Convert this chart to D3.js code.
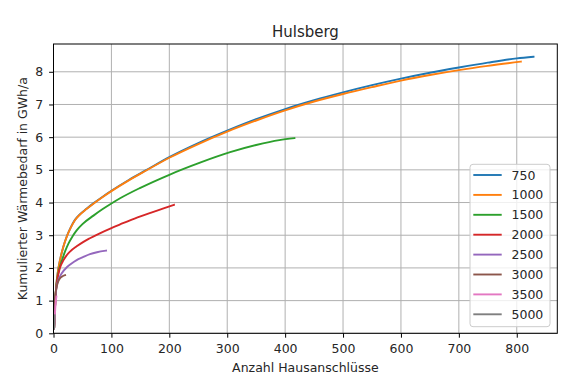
<!DOCTYPE html>
<html>
<head>
<meta charset="utf-8">
<script src="https://cdn.jsdelivr.net/npm/d3@7"></script>
<style>
  html, body { margin: 0; padding: 0; background: #ffffff; }
  svg { display: block; font-family: "DejaVu Sans", sans-serif; }
</style>
</head>
<body>
<svg id="chart" width="566" height="385"></svg>
<script>
const title = "Hulsberg";
const xLabel = "Anzahl Hausanschlüsse";
const yLabel = "Kumulierter Wärmebedarf in GWh/a";
const xTicks = [0, 100, 200, 300, 400, 500, 600, 700, 800];
const yTicks = [0, 1, 2, 3, 4, 5, 6, 7, 8];
const seriesNames = ["750", "1000", "1500", "2000", "2500", "3000", "3500", "5000"];
const colors = ["#1f77b4", "#ff7f0e", "#2ca02c", "#d62728", "#9467bd", "#8c564b", "#e377c2", "#7f7f7f"];

const s750 = [[1,0.15],[2,0.55],[3,0.95],[5,1.5],[8,1.93],[12,2.3],[17,2.65],[23,2.97],[30,3.25],[37,3.47],[45,3.63],[57,3.81],[70,3.99],[85,4.18],[100,4.36],[130,4.69],[160,4.99],[200,5.39],[250,5.82],[300,6.2],[350,6.55],[400,6.86],[450,7.13],[500,7.37],[550,7.59],[600,7.79],[650,7.97],[700,8.13],[750,8.28],[800,8.41],[829,8.46]];
const s1000 = [[1,0.15],[2,0.55],[3,0.95],[5,1.5],[8,1.93],[12,2.3],[17,2.65],[23,2.96],[30,3.24],[37,3.46],[45,3.62],[57,3.8],[70,3.98],[85,4.17],[100,4.35],[130,4.68],[160,4.98],[200,5.37],[250,5.79],[300,6.17],[350,6.51],[400,6.82],[450,7.09],[500,7.32],[550,7.53],[600,7.73],[650,7.9],[700,8.05],[750,8.18],[807,8.31]];
const s1500 = [[1,0.15],[2,0.55],[3,0.95],[5,1.45],[7,1.72],[10,1.98],[14,2.2],[17,2.36],[21,2.55],[26,2.75],[33,2.97],[40,3.15],[50,3.34],[69,3.6],[85,3.8],[100,3.97],[115,4.13],[150,4.45],[200,4.85],[253,5.22],[305,5.54],[350,5.76],[390,5.91],[416,5.97]];
const s2000 = [[1,0.15],[2,0.55],[3,0.95],[5,1.42],[7,1.68],[10,1.93],[13,2.09],[17,2.23],[22,2.37],[28.5,2.5],[40,2.66],[51,2.79],[62,2.9],[80,3.06],[100,3.22],[115,3.33],[140,3.51],[170,3.7],[190,3.82],[208,3.93]];
const s2500 = [[1,0.15],[2,0.55],[3,0.95],[5,1.4],[8.4,1.63],[14,1.83],[23,2.02],[30,2.12],[40,2.24],[50,2.32],[63,2.42],[75,2.48],[90.7,2.53]];
const s3000 = [[1,0.15],[2,0.55],[2.6,1.0],[4,1.3],[5.5,1.43],[8,1.58],[11,1.68],[15,1.74],[20,1.78]];
const s3500 = [[1,0.15],[2,0.45],[3,0.75],[4,0.97],[5,1.12]];
const s5000 = [[1,0.15],[1.5,0.35],[2,0.55]];
const seriesData = [s750, s1000, s1500, s2000, s2500, s3000, s3500, s5000];

const svg = d3.select("#chart");
const L = 53.5, R = 557.3, T = 44, B = 333.3;
const x = d3.scaleLinear().domain([0, 870]).range([L, R]);
const y = d3.scaleLinear().domain([0, 8.85]).range([B, T]);

// grid
const grid = svg.append("g");
grid.selectAll("line.gx").data(xTicks).enter().append("line")
  .attr("x1", d => x(d)).attr("x2", d => x(d)).attr("y1", T).attr("y2", B)
  .attr("stroke", "#b0b0b0").attr("stroke-width", 1);
grid.selectAll("line.gy").data(yTicks).enter().append("line")
  .attr("x1", L).attr("x2", R).attr("y1", d => y(d)).attr("y2", d => y(d))
  .attr("stroke", "#b0b0b0").attr("stroke-width", 1);

// lines
const line = d3.line().x(d => x(d[0])).y(d => y(d[1])).curve(d3.curveMonotoneX);
const plot = svg.append("g");
seriesData.forEach((s, i) => {
  plot.append("path").attr("d", line(s)).attr("fill", "none")
    .attr("stroke", colors[i]).attr("stroke-width", 1.9)
    .attr("stroke-linejoin", "round").attr("stroke-linecap", "square");
});

// axes
const xAxis = svg.append("g").attr("transform", `translate(0,${B})`)
  .call(d3.axisBottom(x).tickValues(xTicks).tickFormat(d3.format("d")).tickSizeOuter(0).tickSize(4.4).tickPadding(6));
const yAxis = svg.append("g").attr("transform", `translate(${L},0)`)
  .call(d3.axisLeft(y).tickValues(yTicks).tickFormat(d3.format("d")).tickSizeOuter(0).tickSize(4.4).tickPadding(6));
[xAxis, yAxis].forEach(a => {
  a.select(".domain").remove();
  a.selectAll("text").attr("font-size", 12.5).attr("fill", "#262626").attr("font-family", "DejaVu Sans, sans-serif");
  a.selectAll("line").attr("stroke", "#000").attr("stroke-width", 1);
});

// spines
svg.append("rect").attr("x", L).attr("y", T).attr("width", R - L).attr("height", B - T)
  .attr("fill", "none").attr("stroke", "#000").attr("stroke-width", 1);

// labels
svg.append("text").attr("x", (L + R) / 2).attr("y", 36.5).attr("text-anchor", "middle")
  .attr("font-size", 15).attr("fill", "#262626").text(title);
svg.append("text").attr("x", (L + R) / 2).attr("y", 371.5).attr("text-anchor", "middle")
  .attr("font-size", 12.5).attr("fill", "#262626").text(xLabel);
svg.append("text").attr("transform", `translate(26.5,${(T + B) / 2}) rotate(-90)`).attr("text-anchor", "middle")
  .attr("font-size", 12.5).attr("fill", "#262626").text(yLabel);

// legend
const lg = svg.append("g");
lg.append("rect").attr("x", 470).attr("y", 164.3).attr("width", 80).attr("height", 162.4)
  .attr("rx", 3).attr("fill", "#ffffff").attr("fill-opacity", 0.8).attr("stroke", "#cccccc").attr("stroke-width", 1);
seriesNames.forEach((n, i) => {
  const yy = 175 + i * 19.9;
  lg.append("line").attr("x1", 473.3).attr("x2", 501.7).attr("y1", yy).attr("y2", yy)
    .attr("stroke", colors[i]).attr("stroke-width", 1.9);
  lg.append("text").attr("x", 511.5).attr("y", yy + 4.5).attr("font-size", 12.5).attr("fill", "#262626").text(n);
});
</script>
</body>
</html>
